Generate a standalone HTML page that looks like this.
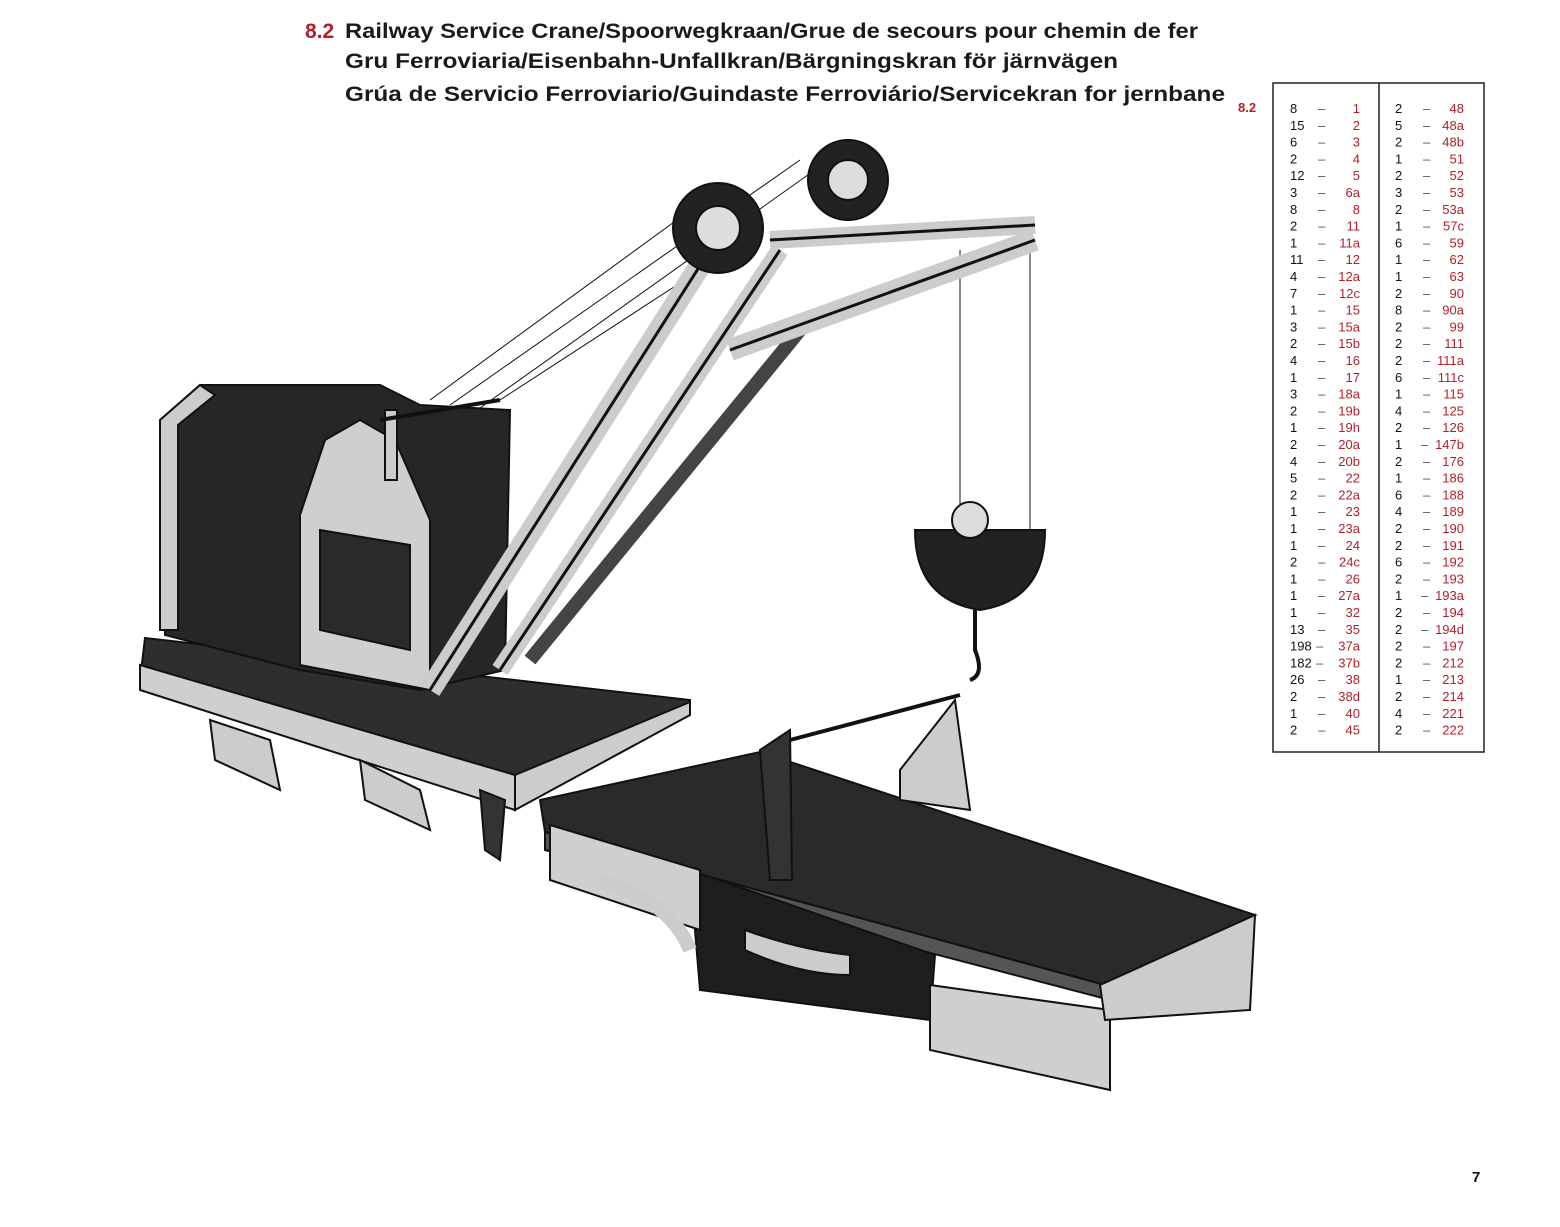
<!DOCTYPE html>
<html><head><meta charset="utf-8"><style>
html,body{margin:0;padding:0;background:#fff;}
svg{display:block;}
.t{font-family:"Liberation Sans",sans-serif;font-weight:bold;font-size:21px;fill:#1a1a1a;}
.q{font-family:"Liberation Sans",sans-serif;font-size:13px;fill:#111;}
.r{font-family:"Liberation Sans",sans-serif;font-size:13px;fill:#b3202a;text-anchor:end;}
.d{font-family:"Liberation Sans",sans-serif;font-size:13px;fill:#555;}
</style></head><body>
<svg width="1560" height="1227" viewBox="0 0 1560 1227" xmlns="http://www.w3.org/2000/svg">
<rect width="1560" height="1227" fill="#fff"/>
<text x="305" y="38" class="t" style="fill:#b3202a">8.2</text>
<text x="345" y="38" class="t" textLength="853" lengthAdjust="spacingAndGlyphs">Railway Service Crane/Spoorwegkraan/Grue de secours pour chemin de fer</text>
<text x="345" y="68" class="t" textLength="773" lengthAdjust="spacingAndGlyphs">Gru Ferroviaria/Eisenbahn-Unfallkran/Bärgningskran för järnvägen</text>
<text x="345" y="101" class="t" textLength="880" lengthAdjust="spacingAndGlyphs">Grúa de Servicio Ferroviario/Guindaste Ferroviário/Servicekran for jernbane</text>
<text x="1238" y="112" style="font-family:'Liberation Sans',sans-serif;font-weight:bold;font-size:13px;fill:#b3202a">8.2</text>
<text x="1472" y="1182" style="font-family:'Liberation Sans',sans-serif;font-weight:bold;font-size:15px;fill:#111">7</text>

<!-- table -->
<rect x="1273" y="83" width="211" height="669" fill="none" stroke="#222" stroke-width="1.5"/>
<line x1="1379" y1="83" x2="1379" y2="752" stroke="#222" stroke-width="1.5"/>
<g>
<text class="q" x="1290" y="113">8</text><text class="d" x="1318" y="113">–</text><text class="r" x="1360" y="113">1</text>
<text class="q" x="1290" y="129.8">15</text><text class="d" x="1318" y="129.8">–</text><text class="r" x="1360" y="129.8">2</text>
<text class="q" x="1290" y="146.6">6</text><text class="d" x="1318" y="146.6">–</text><text class="r" x="1360" y="146.6">3</text>
<text class="q" x="1290" y="163.4">2</text><text class="d" x="1318" y="163.4">–</text><text class="r" x="1360" y="163.4">4</text>
<text class="q" x="1290" y="180.2">12</text><text class="d" x="1318" y="180.2">–</text><text class="r" x="1360" y="180.2">5</text>
<text class="q" x="1290" y="197">3</text><text class="d" x="1318" y="197">–</text><text class="r" x="1360" y="197">6a</text>
<text class="q" x="1290" y="213.8">8</text><text class="d" x="1318" y="213.8">–</text><text class="r" x="1360" y="213.8">8</text>
<text class="q" x="1290" y="230.6">2</text><text class="d" x="1318" y="230.6">–</text><text class="r" x="1360" y="230.6">11</text>
<text class="q" x="1290" y="247.4">1</text><text class="d" x="1318" y="247.4">–</text><text class="r" x="1360" y="247.4">11a</text>
<text class="q" x="1290" y="264.2">11</text><text class="d" x="1318" y="264.2">–</text><text class="r" x="1360" y="264.2">12</text>
<text class="q" x="1290" y="281">4</text><text class="d" x="1318" y="281">–</text><text class="r" x="1360" y="281">12a</text>
<text class="q" x="1290" y="297.8">7</text><text class="d" x="1318" y="297.8">–</text><text class="r" x="1360" y="297.8">12c</text>
<text class="q" x="1290" y="314.6">1</text><text class="d" x="1318" y="314.6">–</text><text class="r" x="1360" y="314.6">15</text>
<text class="q" x="1290" y="331.4">3</text><text class="d" x="1318" y="331.4">–</text><text class="r" x="1360" y="331.4">15a</text>
<text class="q" x="1290" y="348.2">2</text><text class="d" x="1318" y="348.2">–</text><text class="r" x="1360" y="348.2">15b</text>
<text class="q" x="1290" y="365">4</text><text class="d" x="1318" y="365">–</text><text class="r" x="1360" y="365">16</text>
<text class="q" x="1290" y="381.8">1</text><text class="d" x="1318" y="381.8">–</text><text class="r" x="1360" y="381.8">17</text>
<text class="q" x="1290" y="398.6">3</text><text class="d" x="1318" y="398.6">–</text><text class="r" x="1360" y="398.6">18a</text>
<text class="q" x="1290" y="415.4">2</text><text class="d" x="1318" y="415.4">–</text><text class="r" x="1360" y="415.4">19b</text>
<text class="q" x="1290" y="432.2">1</text><text class="d" x="1318" y="432.2">–</text><text class="r" x="1360" y="432.2">19h</text>
<text class="q" x="1290" y="449">2</text><text class="d" x="1318" y="449">–</text><text class="r" x="1360" y="449">20a</text>
<text class="q" x="1290" y="465.8">4</text><text class="d" x="1318" y="465.8">–</text><text class="r" x="1360" y="465.8">20b</text>
<text class="q" x="1290" y="482.6">5</text><text class="d" x="1318" y="482.6">–</text><text class="r" x="1360" y="482.6">22</text>
<text class="q" x="1290" y="499.4">2</text><text class="d" x="1318" y="499.4">–</text><text class="r" x="1360" y="499.4">22a</text>
<text class="q" x="1290" y="516.2">1</text><text class="d" x="1318" y="516.2">–</text><text class="r" x="1360" y="516.2">23</text>
<text class="q" x="1290" y="533">1</text><text class="d" x="1318" y="533">–</text><text class="r" x="1360" y="533">23a</text>
<text class="q" x="1290" y="549.8">1</text><text class="d" x="1318" y="549.8">–</text><text class="r" x="1360" y="549.8">24</text>
<text class="q" x="1290" y="566.6">2</text><text class="d" x="1318" y="566.6">–</text><text class="r" x="1360" y="566.6">24c</text>
<text class="q" x="1290" y="583.4">1</text><text class="d" x="1318" y="583.4">–</text><text class="r" x="1360" y="583.4">26</text>
<text class="q" x="1290" y="600.2">1</text><text class="d" x="1318" y="600.2">–</text><text class="r" x="1360" y="600.2">27a</text>
<text class="q" x="1290" y="617">1</text><text class="d" x="1318" y="617">–</text><text class="r" x="1360" y="617">32</text>
<text class="q" x="1290" y="633.8">13</text><text class="d" x="1318" y="633.8">–</text><text class="r" x="1360" y="633.8">35</text>
<text class="q" x="1290" y="650.6">198</text><text class="d" x="1316" y="650.6">–</text><text class="r" x="1360" y="650.6">37a</text>
<text class="q" x="1290" y="667.4">182</text><text class="d" x="1316" y="667.4">–</text><text class="r" x="1360" y="667.4">37b</text>
<text class="q" x="1290" y="684.2">26</text><text class="d" x="1318" y="684.2">–</text><text class="r" x="1360" y="684.2">38</text>
<text class="q" x="1290" y="701">2</text><text class="d" x="1318" y="701">–</text><text class="r" x="1360" y="701">38d</text>
<text class="q" x="1290" y="717.8">1</text><text class="d" x="1318" y="717.8">–</text><text class="r" x="1360" y="717.8">40</text>
<text class="q" x="1290" y="734.6">2</text><text class="d" x="1318" y="734.6">–</text><text class="r" x="1360" y="734.6">45</text>
</g>
<g>
<text class="q" x="1395" y="113">2</text><text class="d" x="1423" y="113">–</text><text class="r" x="1464" y="113">48</text>
<text class="q" x="1395" y="129.8">5</text><text class="d" x="1423" y="129.8">–</text><text class="r" x="1464" y="129.8">48a</text>
<text class="q" x="1395" y="146.6">2</text><text class="d" x="1423" y="146.6">–</text><text class="r" x="1464" y="146.6">48b</text>
<text class="q" x="1395" y="163.4">1</text><text class="d" x="1423" y="163.4">–</text><text class="r" x="1464" y="163.4">51</text>
<text class="q" x="1395" y="180.2">2</text><text class="d" x="1423" y="180.2">–</text><text class="r" x="1464" y="180.2">52</text>
<text class="q" x="1395" y="197">3</text><text class="d" x="1423" y="197">–</text><text class="r" x="1464" y="197">53</text>
<text class="q" x="1395" y="213.8">2</text><text class="d" x="1423" y="213.8">–</text><text class="r" x="1464" y="213.8">53a</text>
<text class="q" x="1395" y="230.6">1</text><text class="d" x="1423" y="230.6">–</text><text class="r" x="1464" y="230.6">57c</text>
<text class="q" x="1395" y="247.4">6</text><text class="d" x="1423" y="247.4">–</text><text class="r" x="1464" y="247.4">59</text>
<text class="q" x="1395" y="264.2">1</text><text class="d" x="1423" y="264.2">–</text><text class="r" x="1464" y="264.2">62</text>
<text class="q" x="1395" y="281">1</text><text class="d" x="1423" y="281">–</text><text class="r" x="1464" y="281">63</text>
<text class="q" x="1395" y="297.8">2</text><text class="d" x="1423" y="297.8">–</text><text class="r" x="1464" y="297.8">90</text>
<text class="q" x="1395" y="314.6">8</text><text class="d" x="1423" y="314.6">–</text><text class="r" x="1464" y="314.6">90a</text>
<text class="q" x="1395" y="331.4">2</text><text class="d" x="1423" y="331.4">–</text><text class="r" x="1464" y="331.4">99</text>
<text class="q" x="1395" y="348.2">2</text><text class="d" x="1423" y="348.2">–</text><text class="r" x="1464" y="348.2">111</text>
<text class="q" x="1395" y="365">2</text><text class="d" x="1423" y="365">–</text><text class="r" x="1464" y="365">111a</text>
<text class="q" x="1395" y="381.8">6</text><text class="d" x="1423" y="381.8">–</text><text class="r" x="1464" y="381.8">111c</text>
<text class="q" x="1395" y="398.6">1</text><text class="d" x="1423" y="398.6">–</text><text class="r" x="1464" y="398.6">115</text>
<text class="q" x="1395" y="415.4">4</text><text class="d" x="1423" y="415.4">–</text><text class="r" x="1464" y="415.4">125</text>
<text class="q" x="1395" y="432.2">2</text><text class="d" x="1423" y="432.2">–</text><text class="r" x="1464" y="432.2">126</text>
<text class="q" x="1395" y="449">1</text><text class="d" x="1421" y="449">–</text><text class="r" x="1464" y="449">147b</text>
<text class="q" x="1395" y="465.8">2</text><text class="d" x="1423" y="465.8">–</text><text class="r" x="1464" y="465.8">176</text>
<text class="q" x="1395" y="482.6">1</text><text class="d" x="1423" y="482.6">–</text><text class="r" x="1464" y="482.6">186</text>
<text class="q" x="1395" y="499.4">6</text><text class="d" x="1423" y="499.4">–</text><text class="r" x="1464" y="499.4">188</text>
<text class="q" x="1395" y="516.2">4</text><text class="d" x="1423" y="516.2">–</text><text class="r" x="1464" y="516.2">189</text>
<text class="q" x="1395" y="533">2</text><text class="d" x="1423" y="533">–</text><text class="r" x="1464" y="533">190</text>
<text class="q" x="1395" y="549.8">2</text><text class="d" x="1423" y="549.8">–</text><text class="r" x="1464" y="549.8">191</text>
<text class="q" x="1395" y="566.6">6</text><text class="d" x="1423" y="566.6">–</text><text class="r" x="1464" y="566.6">192</text>
<text class="q" x="1395" y="583.4">2</text><text class="d" x="1423" y="583.4">–</text><text class="r" x="1464" y="583.4">193</text>
<text class="q" x="1395" y="600.2">1</text><text class="d" x="1421" y="600.2">–</text><text class="r" x="1464" y="600.2">193a</text>
<text class="q" x="1395" y="617">2</text><text class="d" x="1423" y="617">–</text><text class="r" x="1464" y="617">194</text>
<text class="q" x="1395" y="633.8">2</text><text class="d" x="1421" y="633.8">–</text><text class="r" x="1464" y="633.8">194d</text>
<text class="q" x="1395" y="650.6">2</text><text class="d" x="1423" y="650.6">–</text><text class="r" x="1464" y="650.6">197</text>
<text class="q" x="1395" y="667.4">2</text><text class="d" x="1423" y="667.4">–</text><text class="r" x="1464" y="667.4">212</text>
<text class="q" x="1395" y="684.2">1</text><text class="d" x="1423" y="684.2">–</text><text class="r" x="1464" y="684.2">213</text>
<text class="q" x="1395" y="701">2</text><text class="d" x="1423" y="701">–</text><text class="r" x="1464" y="701">214</text>
<text class="q" x="1395" y="717.8">4</text><text class="d" x="1423" y="717.8">–</text><text class="r" x="1464" y="717.8">221</text>
<text class="q" x="1395" y="734.6">2</text><text class="d" x="1423" y="734.6">–</text><text class="r" x="1464" y="734.6">222</text>
</g>

<!-- crane illustration (approximate) -->
<g stroke="#111" stroke-width="2">
<!-- strings -->
<g stroke-width="1" fill="none">
<line x1="430" y1="400" x2="718" y2="190"/><line x1="450" y1="405" x2="800" y2="160"/>
<line x1="480" y1="408" x2="850" y2="145"/><line x1="500" y1="400" x2="700" y2="270"/>
<line x1="960" y1="250" x2="960" y2="520"/><line x1="1030" y1="235" x2="1030" y2="530"/>
</g>
<!-- second wagon -->
<polygon points="540,800 760,752 1255,915 1105,985 545,832" fill="#2a2a2a"/>
<polygon points="545,832 1105,985 1110,1000 690,890 545,850" fill="#555"/>
<polygon points="690,870 935,955 930,1020 700,990" fill="#1e1e1e"/>
<polygon points="550,825 700,870 700,930 550,880" fill="#cfcfcf"/>
<polygon points="930,985 1110,1010 1110,1090 930,1050" fill="#cfcfcf"/>
<polygon points="1100,985 1255,915 1250,1010 1105,1020" fill="#ccc"/>
<path d="M745,930 Q800,950 850,955 L850,975 Q800,975 745,950Z" fill="#ccc"/>
<path d="M600,880 Q670,900 690,950" fill="none" stroke="#ccc" stroke-width="14"/>
<polygon points="760,750 790,730 792,880 770,880" fill="#333"/>
<polygon points="900,770 955,700 970,810 900,800" fill="#ccc"/>
<line x1="790" y1="740" x2="960" y2="695" stroke-width="4"/>
<!-- first wagon -->
<polygon points="145,638 690,700 690,712 515,800 140,680" fill="#2e2e2e"/>
<polygon points="140,665 515,775 515,810 140,690" fill="#cfcfcf"/>
<polygon points="515,775 690,702 690,715 515,810" fill="#ccc"/>
<polygon points="210,720 270,740 280,790 215,760" fill="#ccc"/>
<polygon points="360,760 420,790 430,830 365,800" fill="#ccc"/>
<polygon points="480,790 505,800 500,860 485,850" fill="#333"/>
<!-- cab -->
<polygon points="160,420 200,385 380,385 420,405 510,410 505,670 420,690 300,670 165,635" fill="#262626"/>
<polygon points="300,515 325,440 360,420 395,440 430,520 430,690 300,665" fill="#cfcfcf"/>
<polygon points="320,530 410,545 410,650 320,630" fill="#2a2a2a"/>
<polygon points="160,420 200,385 215,395 178,425 178,630 160,630" fill="#ccc"/>
<rect x="385" y="410" width="12" height="70" fill="#ccc"/>
<!-- boom -->
<g stroke="#111" stroke-width="3" fill="none">
<line x1="430" y1="690" x2="710" y2="250" stroke="#ccc" stroke-width="22"/>
<line x1="430" y1="690" x2="710" y2="250"/>
<line x1="500" y1="670" x2="780" y2="250" stroke="#ccc" stroke-width="18"/>
<line x1="500" y1="670" x2="780" y2="250"/>
<line x1="530" y1="660" x2="800" y2="330" stroke="#444" stroke-width="14"/>
<line x1="730" y1="350" x2="1035" y2="240" stroke="#ccc" stroke-width="22"/>
<line x1="730" y1="350" x2="1035" y2="240"/>
<line x1="770" y1="240" x2="1035" y2="225" stroke="#ccc" stroke-width="18"/>
<line x1="770" y1="240" x2="1035" y2="225"/>
<line x1="380" y1="420" x2="500" y2="400" stroke-width="4"/>
</g>
<circle cx="718" cy="228" r="45" fill="#222"/><circle cx="718" cy="228" r="22" fill="#ddd"/>
<circle cx="848" cy="180" r="40" fill="#222"/><circle cx="848" cy="180" r="20" fill="#ddd"/>
<!-- hook block -->
<path d="M915,530 L1045,530 Q1045,600 980,610 Q915,600 915,530Z" fill="#222"/>
<circle cx="970" cy="520" r="18" fill="#ddd"/>
<path d="M975,610 L975,650 Q985,675 970,680" fill="none" stroke-width="4"/>
</g>
</svg>
</body></html>
